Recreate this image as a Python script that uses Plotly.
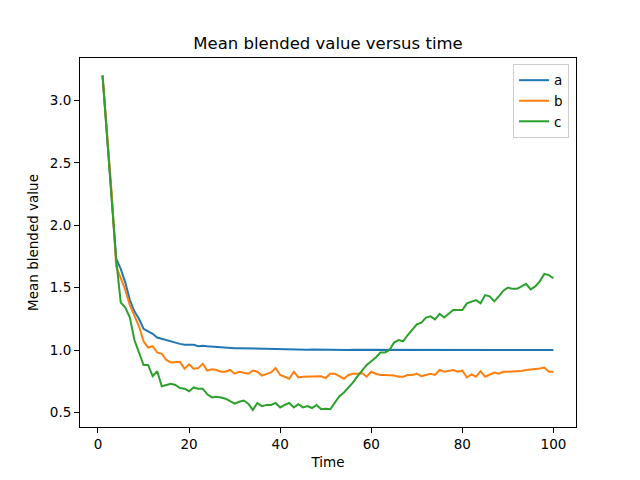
import plotly.graph_objects as go

time = list(range(1, 101))

series_a = [3.20, 2.72, 2.24, 1.73, 1.65, 1.54, 1.40, 1.31, 1.25, 1.17,
            1.15, 1.13, 1.10, 1.09, 1.075, 1.065, 1.057, 1.049, 1.043, 1.040,
            1.042, 1.031, 1.035, 1.030, 1.027, 1.022, 1.020, 1.021, 1.017, 1.015,
            1.015, 1.014, 1.013, 1.010, 1.008, 1.008, 1.007, 1.007, 1.006, 1.006,
            1.006, 1.004, 1.004, 1.003, 1.003, 1.002, 1.004, 1.003, 1.002, 1.004,
            1.002, 1.002, 1.003, 1.002, 1.001, 1.002, 1.002, 1.001, 1.002, 1.002,
            1.001, 1.002, 1.001, 1.001, 1.002, 1.001, 1.001, 1.001, 1.002, 1.001,
            1.001, 1.001, 1.001, 1.001, 1.001, 1.001, 1.001, 1.001, 1.001, 1.001,
            1.001, 1.001, 1.001, 1.000, 1.001, 1.001, 1.000, 1.001, 1.000, 1.000,
            1.001, 1.000, 1.000, 1.000, 1.001, 1.000, 1.000, 1.000, 1.000, 1.000]

series_b = [3.20, 2.73, 2.26, 1.67, 1.57, 1.48, 1.36, 1.27, 1.19, 1.07,
            1.02, 1.03, 0.98, 0.97, 0.92, 0.90, 0.905, 0.905, 0.85, 0.885,
            0.85, 0.855, 0.89, 0.835, 0.845, 0.84, 0.826, 0.826, 0.84, 0.81,
            0.825, 0.82, 0.81, 0.835, 0.826, 0.795, 0.81, 0.82, 0.855, 0.80,
            0.786, 0.77, 0.826, 0.78, 0.785, 0.785, 0.79, 0.79, 0.79, 0.775,
            0.81, 0.81, 0.79, 0.77, 0.80, 0.81, 0.81, 0.814, 0.786, 0.826,
            0.81, 0.80, 0.80, 0.80, 0.795, 0.786, 0.786, 0.80, 0.80, 0.81,
            0.79, 0.80, 0.81, 0.80, 0.84, 0.826, 0.83, 0.84, 0.826, 0.835,
            0.78, 0.805, 0.786, 0.83, 0.786, 0.805, 0.82, 0.81, 0.826, 0.826,
            0.826, 0.83, 0.832, 0.84, 0.842, 0.85, 0.852, 0.86, 0.826, 0.826]

series_c = [3.20, 2.71, 2.22, 1.72, 1.38, 1.34, 1.26, 1.08, 0.98, 0.88,
            0.88, 0.79, 0.83, 0.71, 0.72, 0.73, 0.72, 0.695, 0.69, 0.67,
            0.70, 0.69, 0.69, 0.645, 0.62, 0.625, 0.62, 0.61, 0.59, 0.57,
            0.585, 0.595, 0.57, 0.52, 0.575, 0.55, 0.56, 0.56, 0.575, 0.54,
            0.56, 0.575, 0.54, 0.565, 0.54, 0.55, 0.535, 0.56, 0.525, 0.53,
            0.525, 0.58, 0.63, 0.66, 0.70, 0.74, 0.79, 0.84, 0.88, 0.91,
            0.94, 0.98, 0.98, 1.00, 1.06, 1.08, 1.07, 1.12, 1.165, 1.205,
            1.22, 1.26, 1.27, 1.245, 1.29, 1.26, 1.29, 1.32, 1.32, 1.32,
            1.374, 1.39, 1.40, 1.374, 1.44, 1.43, 1.39, 1.43, 1.475, 1.50,
            1.49, 1.49, 1.51, 1.53, 1.486, 1.51, 1.55, 1.61, 1.60, 1.575]

names = ["a", "b", "c"]
colors = ["#1f77b4", "#ff7f0e", "#2ca02c"]
x_ticks = [0, 20, 40, 60, 80, 100]
y_ticks = [0.5, 1.0, 1.5, 2.0, 2.5, 3.0]

FONT = "DejaVu Sans"

fig = go.Figure()
for name, vals, col in zip(names, [series_a, series_b, series_c], colors):
    fig.add_trace(go.Scatter(x=time, y=vals, mode="lines", name=name,
                             line=dict(color=col, width=2)))

axis_common = dict(showline=True, linecolor="black", linewidth=1, mirror=True,
                   ticks="outside", ticklen=5, tickwidth=1, tickcolor="black",
                   showgrid=False, zeroline=False,
                   tickfont=dict(family=FONT, size=13.5, color="black"))

fig.update_layout(
    width=640, height=480,
    margin=dict(l=72, r=72, t=50, b=61),
    paper_bgcolor="white", plot_bgcolor="white",
    font=dict(family=FONT, color="black"),
    title=dict(text="Mean blended value versus time", x=0.5, xref="paper",
               xanchor="center", y=1 - 35 / 480, yref="container", yanchor="middle",
               font=dict(family=FONT, size=16.5, color="black")),
    xaxis=dict(range=[-3.95, 104.95], tickvals=x_ticks,
               title=dict(text="Time", font=dict(family=FONT, size=13.5), standoff=6),
               **axis_common),
    yaxis=dict(range=[0.383, 3.34], tickvals=y_ticks, tickformat=".1f",
               title=dict(text="Mean blended value", font=dict(family=FONT, size=13.5), standoff=8),
               **axis_common),
    legend=dict(x=0.986, y=0.984, xanchor="right", yanchor="top",
                bgcolor="rgba(255,255,255,0.8)", bordercolor="#cccccc", borderwidth=1,
                font=dict(family=FONT, size=13.5, color="black"),
                tracegroupgap=0),
    showlegend=True,
)

fig.write_html("out.html")
